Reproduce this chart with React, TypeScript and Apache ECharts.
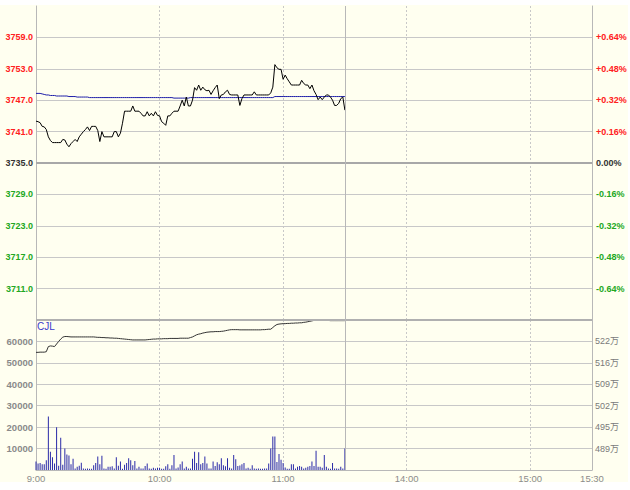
import React, { useEffect, useRef } from 'react';
import * as echarts from 'echarts';

const PRE_CLOSE = 3735;

// minute index 0 = 9:00 (session 9:00-11:30, 13:30-15:30 => 270 minutes)
const PRICE = [
  3743.0, 3742.9, 3742.7, 3742.0, 3741.9, 3741.4, 3740.0, 3739.3, 3738.9, 3738.9,
  3738.9, 3738.9, 3738.9, 3739.5, 3739.4, 3738.6, 3738.1, 3738.7, 3739.1, 3739.5,
  3739.1, 3740.0, 3740.5, 3741.0, 3741.4, 3741.9, 3741.2, 3742.0, 3742.0, 3742.0,
  3741.2, 3739.1, 3741.0, 3740.0, 3740.0, 3740.0, 3740.0, 3740.0, 3741.0, 3741.0,
  3740.0, 3740.7, 3742.6, 3744.9, 3744.9, 3744.9, 3744.9, 3745.9, 3744.9, 3744.9,
  3744.9, 3744.5, 3744.0, 3744.0, 3744.8, 3744.0, 3744.5, 3744.0, 3744.8, 3744.1,
  3744.0, 3742.9, 3742.6, 3742.2, 3744.0, 3744.0, 3744.5, 3744.9, 3744.9, 3744.9,
  3745.9, 3747.0, 3745.9, 3747.6, 3745.9, 3745.9, 3747.0, 3749.4, 3748.9, 3749.9,
  3748.9, 3749.5, 3749.0, 3748.8, 3748.9, 3748.1, 3748.8, 3749.4, 3749.9, 3747.3,
  3748.0, 3748.1, 3748.6, 3748.9, 3748.1, 3748.0, 3748.0, 3748.0, 3748.0, 3746.0,
  3747.3, 3748.0, 3748.0, 3748.0, 3748.0, 3748.0, 3748.6, 3748.0, 3748.0, 3748.0,
  3748.0, 3748.0, 3748.0, 3748.0, 3748.4, 3749.5, 3753.8, 3753.2, 3752.9, 3752.9,
  3751.0, 3751.8, 3751.1, 3750.5, 3749.9, 3749.9, 3749.9, 3749.9, 3749.9, 3750.8,
  3750.2, 3749.9, 3749.9, 3749.2, 3749.9, 3748.8, 3748.1, 3747.1, 3747.6, 3747.1,
  3747.6, 3748.0, 3748.0, 3747.6, 3747.0, 3746.0, 3746.0, 3746.4, 3747.3, 3747.6,
  3745.1,
];

const AVG_PRICE = [
  3748.3, 3748.3, 3748.3, 3748.2, 3748.1, 3748.0, 3748.0, 3747.9, 3747.9, 3747.9,
  3747.8, 3747.8, 3747.8, 3747.8, 3747.8, 3747.8, 3747.7, 3747.7, 3747.7, 3747.7,
  3747.6, 3747.6, 3747.6, 3747.6, 3747.6, 3747.6, 3747.5, 3747.5, 3747.5, 3747.5,
  3747.5, 3747.5, 3747.5, 3747.5, 3747.5, 3747.5, 3747.5, 3747.5, 3747.5, 3747.5,
  3747.5, 3747.5, 3747.5, 3747.5, 3747.5, 3747.5, 3747.5, 3747.5, 3747.5, 3747.5,
  3747.5, 3747.5, 3747.5, 3747.5, 3747.5, 3747.5, 3747.5, 3747.5, 3747.5, 3747.5,
  3747.5, 3747.5, 3747.5, 3747.5, 3747.5, 3747.5, 3747.5, 3747.4, 3747.4, 3747.4,
  3747.4, 3747.4, 3747.4, 3747.4, 3747.4, 3747.5, 3747.5, 3747.5, 3747.5, 3747.5,
  3747.5, 3747.5, 3747.5, 3747.5, 3747.5, 3747.5, 3747.5, 3747.5, 3747.5, 3747.5,
  3747.5, 3747.5, 3747.5, 3747.5, 3747.5, 3747.5, 3747.5, 3747.5, 3747.5, 3747.5,
  3747.5, 3747.5, 3747.5, 3747.5, 3747.5, 3747.5, 3747.5, 3747.5, 3747.5, 3747.5,
  3747.5, 3747.5, 3747.5, 3747.5, 3747.5, 3747.5, 3747.7, 3747.7, 3747.7, 3747.7,
  3747.7, 3747.7, 3747.7, 3747.7, 3747.7, 3747.7, 3747.7, 3747.7, 3747.7, 3747.7,
  3747.7, 3747.7, 3747.7, 3747.7, 3747.7, 3747.7, 3747.7, 3747.7, 3747.7, 3747.7,
  3747.7, 3747.7, 3747.7, 3747.7, 3747.7, 3747.7, 3747.7, 3747.7, 3747.7, 3747.7,
  3747.7,
];

const VOLUME = [
  4000, 3000, 3300, 2700, 2700, 4500, 25000, 8500, 6000, 3000,
  20000, 2000, 15000, 2400, 10000, 7200, 6800, 2700, 5200, 700,
  1500, 2000, 3400, 700, 600, 700, 600, 600, 2200, 3300,
  6300, 2700, 6700, 700, 600, 1500, 1500, 1800, 700, 6000,
  2000, 4000, 600, 2500, 3300, 5500, 4500, 2200, 4200, 700,
  1500, 700, 700, 1900, 3000, 700, 600, 1000, 700, 1000,
  1000, 600, 600, 1800, 2700, 600, 2200, 7000, 700, 1200,
  2700, 4000, 700, 1500, 700, 700, 5200, 8500, 3300, 8300,
  2700, 3300, 6300, 3000, 700, 700, 4000, 1900, 3600, 2700,
  5500, 2200, 1800, 5500, 1000, 700, 7000, 5000, 1900, 2100,
  2700, 3300, 700, 1000, 600, 2200, 700, 600, 700, 600,
  600, 700, 700, 3000, 10000, 15600, 15600, 3700, 7500, 4800,
  3300, 1200, 600, 600, 2700, 2700, 700, 1500, 1900, 1500,
  700, 1000, 1500, 1900, 4000, 1900, 9000, 1500, 1500, 1000,
  7000, 1500, 700, 600, 3300, 700, 700, 600, 1500, 700,
  10000,
];

const CJL = [
  54900, 54900, 55000, 55000, 55000, 55200, 57600, 57900, 57800, 57600,
  58800, 60000, 61100, 62000, 62300, 62300, 62200, 62100, 62100, 62100,
  62100, 62100, 62100, 62100, 62100, 62100, 62100, 62100, 62100, 62000,
  61900, 61900, 61800, 61800, 61700, 61700, 61600, 61600, 61500, 61500,
  61400, 61300, 61200, 61100, 61000, 60900, 60800, 60700, 60700, 60700,
  60700, 60700, 60700, 60700, 60800, 60900, 61000, 61100, 61100, 61200,
  61200, 61200, 61300, 61300, 61300, 61400, 61400, 61400, 61400, 61400,
  61500, 61500, 61500, 61500, 61500, 61800, 62100, 62600, 63100, 63400,
  63600, 63900, 64100, 64300, 64400, 64500, 64500, 64600, 64600, 64600,
  64700, 64800, 65000, 65200, 65400, 65500, 65500, 65500, 65500, 65400,
  65400, 65400, 65400, 65400, 65400, 65400, 65400, 65400, 65400, 65400,
  65500, 65500, 65600, 65700, 65700, 66500, 67300, 67900, 68100, 68200,
  68300, 68300, 68400, 68400, 68500, 68500, 68600, 68600, 68700, 68700,
  68900, 69000, 69200, 69400, 69600, 69800, 69800, 69800, 69900, 69800,
  69800, 69800, 69800, 69700, 69700, 69700, 69700, 69700, 69700, 69700,
  69700,
];

const X_TICK_LABELS: [number, string][] = [
  [0, '9:00'], [60, '10:00'], [120, '11:00'], [180, '14:00'], [240, '15:00'], [270, '15:30'],
];
const DASHED_AT = [60, 120, 180, 240];
const SESSION_BREAK = 150;
const TOTAL_MIN = 270;
const VOL_RIGHT_LABELS = ['489万', '495万', '502万', '509万', '516万', '522万'];

const FONT = '"Liberation Sans", Arial, "Noto Sans CJK SC", sans-serif';
const GRID_COLOR = '#c8c8c8';
const EDGE_COLOR = '#b8b8b8';

function priceColor(v: number) {
  if (v > PRE_CLOSE + 0.001) return '#ff2020';
  if (v < PRE_CLOSE - 0.001) return '#22a822';
  return '#333333';
}

export default function App() {
  const ref = useRef<HTMLDivElement>(null);
  useEffect(() => {
    document.body.style.margin = '0';
    const chart = echarts.init(ref.current!, null, { renderer: 'svg' });
    const xLabelMap = new Map(X_TICK_LABELS);
    const splitColors: string[] = [];
    for (let t = 0; t <= TOTAL_MIN; t += 30) {
      splitColors.push(DASHED_AT.includes(t) ? GRID_COLOR : 'rgba(0,0,0,0)');
    }
    const pct = (v: number) => {
      const d = ((v - PRE_CLOSE) / PRE_CLOSE) * 100;
      if (Math.abs(d) < 0.0001) return '0.00%';
      return (d > 0 ? '+' : '') + d.toFixed(2) + '%';
    };
    const priceLabelBase = {
      showMinLabel: false,
      showMaxLabel: false,
      fontSize: 9,
      fontWeight: 'bold' as const,
      fontFamily: FONT,
      color: (v: any) => priceColor(Number(v)),
    };
    const option: any = {
      animation: false,
      backgroundColor: '#ffffff',
      graphic: [
        {
          type: 'rect',
          silent: true,
          z: -10,
          shape: { x: 0, y: 5, width: 628, height: 477 },
          style: { fill: '#fffff0' },
        },
      ],
      title: {
        text: 'CJL',
        left: 37,
        top: 321,
        padding: 0,
        textStyle: { fontSize: 10, color: '#3a3acc', fontWeight: 'normal', fontFamily: FONT },
      },
      grid: [
        { left: 36, top: 6, width: 556, height: 314 },
        { left: 36, top: 320, width: 556, height: 150 },
      ],
      xAxis: [0, 1].map((gi) => ({
        type: 'value',
        gridIndex: gi,
        min: 0,
        max: TOTAL_MIN,
        interval: 30,
        axisLine: { show: gi === 1, onZero: false, lineStyle: { color: EDGE_COLOR } },
        axisTick: { show: false },
        axisLabel: {
          show: gi === 1,
          formatter: (v: number) => xLabelMap.get(v) ?? '',
          color: '#8c8c8c',
          fontSize: 9.5,
          fontFamily: FONT,
          margin: 4,
          showMinLabel: true,
          showMaxLabel: true,
        },
        splitLine: { show: true, lineStyle: { color: splitColors, type: [2, 2], width: 1 } },
      })),
      yAxis: [
        {
          type: 'value', gridIndex: 0, position: 'left', min: 3705, max: 3765, interval: 6,
          axisLine: { show: true, lineStyle: { color: EDGE_COLOR } },
          axisTick: { show: false },
          axisLabel: { ...priceLabelBase, margin: 3, formatter: (v: number) => v.toFixed(1) },
          splitLine: { show: true, showMinLine: false, showMaxLine: false, lineStyle: { color: GRID_COLOR } },
        },
        {
          type: 'value', gridIndex: 0, position: 'right', min: 3705, max: 3765, interval: 6,
          axisLine: { show: true, lineStyle: { color: EDGE_COLOR } },
          axisTick: { show: false },
          axisLabel: { ...priceLabelBase, margin: 4, formatter: (v: number) => pct(v) },
          splitLine: { show: false },
        },
        {
          type: 'value', gridIndex: 1, position: 'left', min: 0, max: 70000, interval: 10000,
          axisLine: { show: true, lineStyle: { color: EDGE_COLOR } },
          axisTick: { show: false },
          axisLabel: {
            showMinLabel: false, showMaxLabel: false, margin: 3,
            fontSize: 9.5, fontWeight: 'bold', fontFamily: FONT, color: '#8a8a8a',
            formatter: (v: number) => String(Math.round(v)),
          },
          splitLine: { show: true, showMinLine: false, showMaxLine: false, lineStyle: { color: GRID_COLOR } },
        },
        {
          type: 'value', gridIndex: 1, position: 'right', min: 0, max: 70000, interval: 10000,
          axisLine: { show: true, lineStyle: { color: EDGE_COLOR } },
          axisTick: { show: false },
          axisLabel: {
            showMinLabel: false, showMaxLabel: false, margin: 3,
            fontSize: 9, fontFamily: FONT, color: '#7a7a7a',
            formatter: (v: number) => VOL_RIGHT_LABELS[Math.round(v / 10000) - 1] ?? '',
          },
          splitLine: { show: false },
        },
      ],
      series: [
        {
          type: 'line', name: '均价', xAxisIndex: 0, yAxisIndex: 0,
          data: AVG_PRICE.map((v, i) => [i, v]),
          symbol: 'none', lineStyle: { color: '#1c1ca8', width: 1 }, z: 3,
          markLine: {
            silent: true, symbol: 'none', label: { show: false },
            data: [
              { yAxis: PRE_CLOSE, lineStyle: { color: '#a8a8a8', width: 2, type: 'solid' } },
              { yAxis: 3705, lineStyle: { color: '#b0b0b0', width: 2, type: 'solid' } },
              { xAxis: SESSION_BREAK, lineStyle: { color: EDGE_COLOR, width: 1, type: 'solid' } },
            ],
          },
        },
        {
          type: 'line', name: '价格', xAxisIndex: 0, yAxisIndex: 0,
          data: PRICE.map((v, i) => [i, v]),
          symbol: 'none', lineStyle: { color: '#000000', width: 1 }, z: 4,
        },
        {
          type: 'bar', name: '成交量', xAxisIndex: 1, yAxisIndex: 2,
          data: VOLUME.map((v, i) => [i, v]),
          barWidth: 1, itemStyle: { color: '#2a2aa8' },
          markLine: {
            silent: true, symbol: 'none', label: { show: false },
            data: [{ xAxis: SESSION_BREAK, lineStyle: { color: EDGE_COLOR, width: 1, type: 'solid' } }],
          },
        },
        {
          type: 'line', name: 'CJL', xAxisIndex: 1, yAxisIndex: 2,
          data: CJL.map((v, i) => [i, v]),
          symbol: 'none', lineStyle: { color: '#333333', width: 1 }, z: 4,
        },
      ],
    };
    chart.setOption(option);
    return () => chart.dispose();
  }, []);
  return <div ref={ref} style={{ width: 630, height: 490 }} />;
}
